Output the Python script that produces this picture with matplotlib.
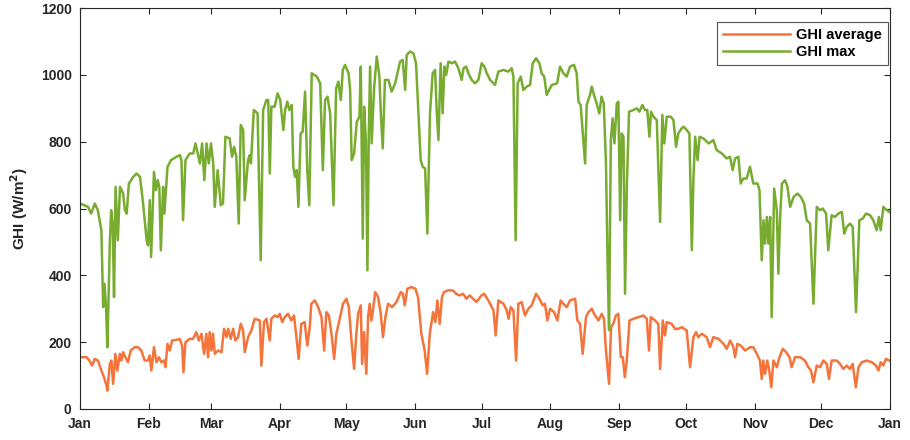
import numpy as np
import matplotlib
matplotlib.use("Agg")
import matplotlib.pyplot as plt

# day-of-year positions and values
max_days = [0, 3.6, 5, 6.6, 8, 9.6, 10.4, 11, 11.7, 12.3, 13.4, 14, 14.7, 15.3, 16, 17, 18, 19.4, 20.2, 21,
            22, 24, 25.4, 27, 28.4, 30, 30.6, 31.4, 32, 33.3, 34.2, 35, 35.7, 36.4, 37.4, 38, 39.4, 41, 43.4, 45,
            45.7, 46.4, 47.5, 49.4, 51, 52, 53, 54, 55, 56, 57, 58, 59, 60, 60.7, 62, 63.4, 64.4, 65.5, 67.4,
            68.5, 69.4, 70.4, 71.5, 72.4, 73.5, 74.2, 75.7, 76.4, 77, 78.3, 80, 81.4, 82.5, 84, 84.8, 85.5, 86.2,
            87.7, 89, 90.2, 91.6, 92.4, 93.4, 94.3, 95.4, 96.1, 96.9, 97.6, 98.4, 99.4, 100.3, 101.4, 102.4,
            103.3, 104.4, 106.7, 108.2, 109.4, 110.4, 111.5, 112.7, 114.2, 115.4, 116.4, 117.5, 118.4, 119.4,
            121, 121.7, 122.4, 123.5, 124.7, 125.9, 126.5, 127.4, 128, 128.8, 129.5, 130.1, 130.7, 131.4, 132.5,
            133.7, 134.9, 135.6, 136.4, 137.4, 139, 140.4, 142, 144.2, 145.4, 146.5, 147.2, 148.7, 150.2, 151.4,
            152.5, 153.5, 154.4, 155.5, 156.5, 157.7, 158.9, 160, 160.7, 161.5, 162.5, 163.4, 164.2, 165, 166,
            167.5, 169, 170.5, 172, 172.8, 174, 175, 176.5, 178, 179.5, 181, 182.2, 183.3, 184.8, 187, 188.5,
            190.8, 193, 194.5, 195.3, 196.3, 197.2, 198.6, 199.8, 201.3, 202.8, 204, 205.5, 207, 208, 209.2,
            210.3, 211.4, 212.6, 215, 216.3, 217.8, 219.3, 220.8, 222.6, 223.8, 224.6, 225.6, 226.8, 227.6,
            228.3, 229.8, 230.6, 231.6, 232.8, 234, 235, 236, 237, 237.8, 238.4, 239.2, 240, 240.8, 241.9, 242.6,
            243.4, 244.1, 244.9, 245.6, 246.4, 247.4, 249.4, 250.9, 252.1, 253.4, 254.6, 255.6, 256.6, 257.3,
            258.4, 259.9, 261.4, 262.4, 263.3, 264.4, 266.2, 267.4, 268.6, 269.6, 271.1, 272, 273.4, 274.6,
            275.7, 276.4, 277.2, 278.3, 279.2, 280.9, 283.3, 285.4, 286.9, 289.2, 291.4, 292.9, 294.1, 295.2,
            296.7, 297.7, 298.9, 300.4, 301.9, 303.4, 305.3, 306.2, 307.2, 308, 308.7, 309.5, 310.2, 311, 311.7,
            312.8, 314, 314.7, 315.5, 316.3, 317.7, 318.8, 320, 321.6, 323.3, 324.8, 326.3, 327.5, 329, 330.5,
            332, 333.5, 334.7, 336.2, 337.2, 338.7, 340.2, 341.7, 343.3, 344.4, 345.5, 347, 348.2, 349.7, 351.2,
            352.7, 354.2, 356, 357.5, 359, 360, 360.8, 362, 363.5, 364.7]
ghi_max = [615, 605, 585, 615, 595, 535, 305, 375, 305, 185, 495, 595, 555, 335, 665, 505, 665, 645, 595, 585,
           675, 695, 705, 695, 615, 505, 490, 625, 455, 710, 655, 685, 665, 475, 665, 585, 725, 745, 755, 760,
           745, 565, 745, 765, 765, 795, 765, 735, 795, 685, 795, 735, 795, 735, 605, 715, 610, 615, 815, 810,
           755, 785, 755, 555, 850, 835, 625, 745, 760, 735, 895, 885, 445, 895, 925, 925, 705, 905,
           905, 945, 925, 835, 895, 920, 895, 910, 725, 695, 715, 605, 825, 830, 950, 715,
           610, 1005, 995, 975, 715, 925, 935, 885, 610, 960, 980, 925, 1015, 1030,
           1005, 955, 745, 765, 860, 875, 1025, 510, 905, 805, 415, 815, 1025, 795, 960,
           1055, 995, 875, 780, 985, 985, 950, 975, 1040, 1045, 955, 1060, 1070, 1065, 1035,
           885, 745, 725, 720, 525, 885, 1005, 1015, 895, 805, 1035, 885, 1025, 1000, 1040,
           1035, 1040, 1020, 985, 1020, 1025, 1005, 985, 975, 985, 1035, 1025, 1005, 985, 970, 1010,
           1015, 1010, 1020, 995, 505, 975, 995, 955, 965, 970, 1035, 1050, 1035, 1005, 995,
           940, 955, 970, 975, 1025, 1005, 995, 1025, 1030, 1005, 920, 910, 805, 735,
           910, 940, 965, 940, 915, 885, 935, 915, 735, 415, 236, 805, 870, 795, 915, 920,
           565, 825, 815, 345, 665, 890, 895, 900, 890, 910, 895, 895, 815, 890,
           875, 865, 560, 880, 795, 875, 875, 865, 785, 825, 840, 845, 835, 825,
           475, 685, 815, 745, 815, 810, 795, 805, 775, 765, 750, 755, 715, 750,
           755, 675, 690, 690, 725, 675, 675, 655, 445, 565, 495, 575, 495, 575, 275,
           660, 595, 405, 575, 675, 685, 665, 605, 635, 645, 635, 615, 565, 555, 315,
           605, 595, 600, 585, 475, 580, 575, 585, 590, 525, 545, 555, 545, 290, 565,
           570, 585, 580, 565, 535, 575, 535, 605, 595, 590]

avg_days = [0.6, 2.9, 4.2, 5.4, 6.6, 8.1, 9.6, 10.8, 11.9, 12.3, 13.4, 14.1, 14.9, 15.9, 16.8, 17.9, 18.6, 19.4,
            20.4, 21.6, 22.8, 24.6, 26.1, 27.6, 29.1, 30.6, 31.4, 32.1, 33.3, 34.4, 35.5, 36.6, 37.9, 38.5, 39.4,
            40.4, 41.5, 43.4, 44.9, 46, 46.6, 47.5, 49.4, 50.9, 52.4, 53.5, 54.7, 55.9, 56.9, 57.7, 58.4, 59.2,
            59.9, 60.7, 62.2, 63.7, 64.9, 66, 66.7, 67.9, 69, 70, 71.2, 72.4, 73.5, 74.2, 75.7, 77.2, 78.7, 81,
            81.7, 82.9, 84, 85.5, 86.2, 87.7, 88.9, 90, 91.1, 92.2, 93.7, 95.2, 96.4, 97.5, 98.5, 99.7, 101.2,
            102.4, 103.5, 104.2, 105.8, 107.3, 108.8, 110, 111, 112.1, 113.3, 114.5, 115.5, 117, 118.5, 120,
            121.1, 122.3, 123.5, 124.5, 125.3, 126.5, 127.1, 128, 129, 129.8, 130.5, 131.3, 132, 133, 134.3,
            135.5, 136.5, 137.6, 138.8, 140.6, 142.6, 144.5, 145.5, 146.3, 147.5, 149.3, 151.1, 152.3, 153.8,
            155.3, 156.4, 157.6, 159.1, 160.1, 161, 162.1, 163.1, 164, 165.8, 168, 169.5, 171, 172.6, 174.1,
            175.6, 177.1, 178.6, 180.9, 182.1, 184, 185.5, 186.3, 187.3, 188.5, 190.8, 192.3, 193.1, 194.1,
            195.3, 196.5, 197.5, 199, 200.5, 202, 203.5, 205.5, 207, 208.5, 209.5, 210.6, 211.8, 213.6, 215.1,
            216.6, 217.8, 219.3, 220.8, 223.1, 224.1, 225.3, 226.5, 228, 229.1, 230.6, 232.1, 233.6, 235.1,
            236.1, 237, 238.4, 239.3, 240.3, 241.5, 242.6, 243.7, 244.6, 245.5, 246.4, 247.6, 249.4, 251.6,
            253.9, 255.4, 256.4, 257.2, 259.1, 260.6, 261.4, 262.6, 263.6, 264.4, 266.6, 268.1, 269.6, 271.1,
            273.4, 274.9, 276.4, 277.6, 278.6, 280.2, 282.4, 283.9, 285.4, 287.7, 290, 291.4, 293, 294.4,
            295.2, 296.2, 297.7, 299.7, 302, 303.4, 305, 306.4, 307.2, 307.9, 308.7, 309.7, 310.6, 311.5,
            312.5, 314, 315.2, 316.7, 318.2, 319.7, 320.7, 322.2, 324.5, 326.7, 328.2, 329.4, 330.5, 332,
            333.5, 335, 336.5, 337.5, 338.7, 341, 342.5, 344, 345.5, 347, 348.2, 349.6, 350.8, 352.3, 354.5,
            356.8, 358.7, 359.8, 360.8, 362, 363.2, 364.7]
ghi_avg = [155, 155, 145, 130, 150, 145, 115, 95, 70, 55, 135, 145, 75, 165, 115, 165, 145, 170,
           155, 140, 175, 185, 185, 175, 145, 145, 160, 115, 185, 140, 155, 140, 145, 125, 195,
           175, 205, 207, 210, 190, 110, 200, 210, 210, 230, 205, 225, 165, 225, 155, 230, 175,
           225, 165, 175, 170, 240, 215, 240, 210, 240, 205, 215, 255, 235, 170, 215, 235, 270, 265,
           130, 260, 270, 205, 270, 280, 275, 285, 260, 275, 285, 265, 280, 215, 150, 255, 260,
           190, 245, 315, 325, 305, 275, 175, 290, 280, 225, 150, 225, 270, 315, 330,
           305, 205, 120, 225, 285, 310, 135, 230, 105, 275, 315, 265, 295, 350, 335,
           285, 215, 275, 315, 305, 320, 350, 345, 310, 360, 365, 360, 335, 225,
           175, 105, 225, 290, 260, 325, 255, 335, 350, 355, 355, 345, 340, 345, 330,
           340, 330, 320, 340, 345, 325, 305, 295, 220, 325, 315, 295, 270, 305,
           295, 145, 315, 320, 280, 300, 310, 345, 330, 310, 315, 265, 300, 290, 265,
           325, 315, 305, 325, 330, 265, 255, 165, 275, 290, 300, 280, 265, 285,
           270, 175, 75, 245, 255, 280, 285, 155, 155, 95, 145, 265, 270, 275,
           280, 270, 175, 275, 265, 255, 120, 265, 220, 260, 255, 240, 240, 245,
           235, 125, 215, 230, 215, 225, 215, 185, 215, 210, 195, 180, 205, 185,
           155, 195, 190, 175, 185, 185, 165, 145, 90, 145, 105, 145, 115, 65,
           145, 125, 155, 180, 170, 155, 125, 155, 155, 145, 125, 115, 80, 130,
           125, 145, 135, 90, 145, 145, 135, 120, 130, 120, 135, 65, 125, 140, 145,
           140, 130, 115, 140, 130, 150, 145]

month_starts = [0, 31, 59, 90, 120, 151, 181, 212, 243, 273, 304, 334, 365]
month_labels = ["Jan", "Feb", "Mar", "Apr", "May", "Jun", "Jul", "Aug", "Sep", "Oct", "Nov", "Dec", "Jan"]

plt.rcParams["font.family"] = ["Liberation Sans", "DejaVu Sans"]
plt.rcParams["font.weight"] = "bold"

fig = plt.figure(figsize=(9.1, 4.4), dpi=100)
ax = fig.add_axes([0.088, 0.0705, 0.89, 0.911])

ax.plot(avg_days, ghi_avg, color="#F4743B", lw=1.8, label="GHI average")
ax.plot(max_days, ghi_max, color="#77AC30", lw=1.8, label="GHI max")

ax.set_xlim(0, 365)
ax.set_ylim(0, 1200)
ax.set_xticks(month_starts)
ax.set_xticklabels(month_labels)
ax.set_yticks(np.arange(0, 1201, 200))
ax.tick_params(direction="in", top=True, right=True, length=4, width=0.8,
               labelsize=10, colors="#262626", pad=6)
for s in ax.spines.values():
    s.set_color("#262626")
    s.set_linewidth(0.8)

ax.set_ylabel("GHI (W/m$^\\mathbf{2}$)", fontsize=11, fontweight="bold", color="#262626", labelpad=8)

leg = ax.legend(loc="upper right", fontsize=10.5, handlelength=4.6, frameon=True, fancybox=False,
                borderpad=0.4, labelspacing=0.2, handletextpad=0.4, borderaxespad=0,
                bbox_to_anchor=(0.9975, 0.965))
leg.get_frame().set_edgecolor("#262626")
leg.get_frame().set_linewidth(0.8)

fig.savefig("out.png", dpi=100)
